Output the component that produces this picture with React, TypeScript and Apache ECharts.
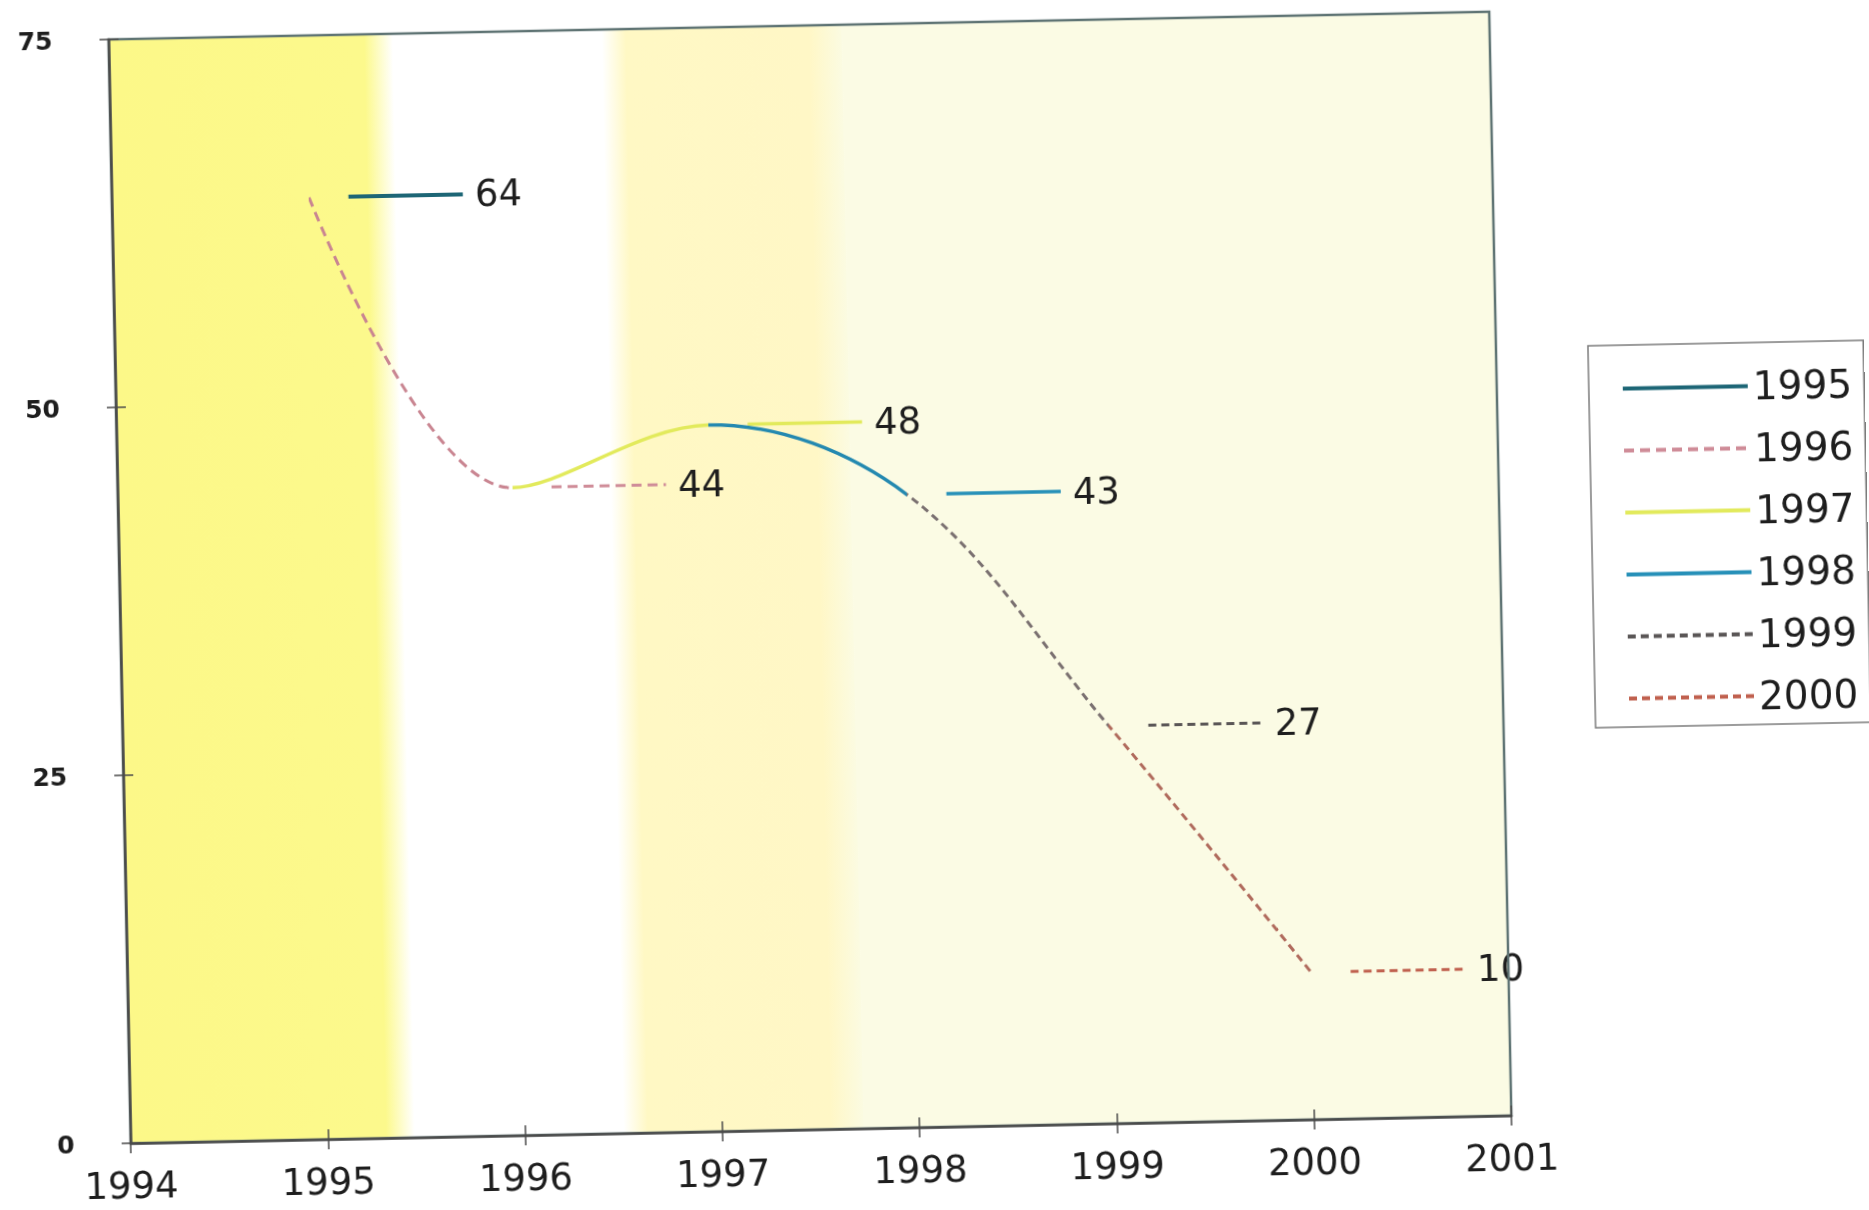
import React, { useEffect, useRef } from "react";
import * as echarts from "echarts";

// ---- data ----
const years = [1995, 1996, 1997, 1998, 1999, 2000];
const values = [64, 44, 48, 43, 27, 10];
const seriesNames = ["1995", "1996", "1997", "1998", "1999", "2000"];
const xMin = 1994;
const xMax = 2001;
const yMin = 0;
const yMax = 75;
const yInterval = 25;

// ---- styles ----
const FONT = "DejaVu Sans";
const lineColors = ["#1d6676", "#c98591", "#e2ea5c", "#2489b0", "#7a7070", "#b06a5c"];
const keyColors = ["#1d6676", "#cf8c98", "#e2ea5c", "#2690b8", "#5a5656", "#c0604e"];
const lineTypes: any[] = ["solid", [10, 6], "solid", "solid", [8, 5], [8, 5]];
const lineWidths = [4, 3, 3.5, 3.5, 3, 3];
const keyStart = 0.2;
const keyEnd = 0.78;

export default function App() {
  const ref = useRef<HTMLDivElement>(null);
  useEffect(() => {
    if (!ref.current) return;
    const chart = echarts.init(ref.current, undefined, { renderer: "svg" });
    const points = years.map((y, i) => [y, values[i]]);

    const keySeries = years.map((y, i) => ({
      name: seriesNames[i],
      type: "line",
      z: 3,
      symbol: "none",
      silent: true,
      data: [
        [y + keyStart, values[i]],
        [y + keyEnd, values[i]],
      ],
      lineStyle: { color: keyColors[i], width: lineWidths[i], type: lineTypes[i] },
      itemStyle: { color: keyColors[i] },
      endLabel: {
        show: true,
        distance: 12,
        formatter: (p: any) => String(p.value[1]),
        fontFamily: FONT,
        fontSize: 37,
        color: "#1e1e1e",
      },
    }));

    const segSeries = years.slice(1).map((y, k) => ({
      name: seriesNames[k + 1],
      type: "line",
      z: 3,
      smooth: 0.35,
      showSymbol: false,
      symbol: "none",
      silent: true,
      data: points,
      lineStyle: { width: lineWidths[k + 1], type: lineTypes[k + 1] },
      itemStyle: { color: lineColors[k + 1] },
    }));

    const visualMaps = years.slice(1).map((y, k) => ({
      type: "piecewise",
      show: false,
      seriesIndex: years.length + k,
      dimension: 0,
      pieces: [{ gte: years[k], lte: y, color: lineColors[k + 1] }],
      outOfRange: { color: "rgba(255,255,255,0)" },
    }));

    const grad = (stops: [number, string][]) =>
      new echarts.graphic.LinearGradient(
        0, 0, 1, 0,
        stops.map(([offset, color]) => ({ offset, color }))
      );

    const bandSeries = {
      name: "bands",
      type: "line",
      z: 1,
      silent: true,
      data: [],
      markArea: {
        silent: true,
        data: [
          [
            { xAxis: 1994, itemStyle: { color: grad([[0, "#fcf888"], [0.9, "#fcf98c"], [1, "#ffffff"]]) } },
            { xAxis: 1995.44 },
          ],
          [{ xAxis: 1995.44, itemStyle: { color: "#ffffff" } }, { xAxis: 1996.5 }],
          [
            { xAxis: 1996.5, itemStyle: { color: grad([[0, "#ffffff"], [0.1, "#fff8c4"], [0.86, "#fff7c6"], [1, "#fbfbe2"]]) } },
            { xAxis: 1997.72 },
          ],
          [{ xAxis: 1997.72, itemStyle: { color: "#fbfbe4" } }, { xAxis: 2001 }],
        ],
      },
    };

    chart.setOption({
      animation: false,
      backgroundColor: "#ffffff",
      grid: {
        left: 120,
        top: 23,
        right: 368,
        bottom: 83,
        show: true,
        z: 4,
        backgroundColor: "transparent",
        borderColor: "#5f7474",
        borderWidth: 2.5,
      },
      legend: {
        orient: "vertical",
        left: 1593,
        top: 359,
        padding: [24, 12, 9, 32],
        itemWidth: 125,
        itemHeight: 20,
        itemGap: 23,
        data: seriesNames,
        backgroundColor: "#ffffff",
        borderColor: "#7c7c7c",
        borderWidth: 1.5,
        selectedMode: false,
        itemStyle: { color: "transparent", borderWidth: 0, opacity: 0 },
        lineStyle: { width: 4 },
        textStyle: { fontFamily: FONT, fontSize: 39, lineHeight: 39, color: "#1e1e1e" },
      },
      visualMap: visualMaps,
      xAxis: [
        {
          type: "value",
          min: xMin,
          max: xMax,
          interval: 1,
          z: 5,
          axisLine: { show: true, onZero: false, lineStyle: { color: "#4a4a4a", width: 2.5 } },
          axisTick: { show: true, length: 10, lineStyle: { color: "#4a4a4a", width: 1.5 } },
          splitLine: { show: false },
          axisLabel: {
            fontFamily: FONT,
            fontSize: 37,
            color: "#1e1e1e",
            margin: 24,
            formatter: (v: number) => String(v),
          },
        },
        {
          type: "value",
          position: "bottom",
          min: xMin,
          max: xMax,
          interval: 1,
          z: 5,
          axisLine: { show: false },
          axisTick: { show: true, inside: true, length: 10, lineStyle: { color: "#4a4a4a", width: 1.5 } },
          splitLine: { show: false },
          axisLabel: { show: false },
        },
      ],
      yAxis: [
        {
          type: "value",
          min: yMin,
          max: yMax,
          interval: yInterval,
          z: 5,
          axisLine: { show: true, onZero: false, lineStyle: { color: "#4a4a4a", width: 2.5 } },
          axisTick: { show: true, length: 9, lineStyle: { color: "#4a4a4a", width: 1.5 } },
          splitLine: { show: false },
          axisLabel: {
            fontFamily: FONT,
            fontWeight: "bold",
            fontSize: 25,
            color: "#1e1e1e",
            margin: 56,
            formatter: (v: number) => String(v),
          },
        },
        {
          type: "value",
          position: "left",
          min: yMin,
          max: yMax,
          interval: yInterval,
          z: 5,
          axisLine: { show: false },
          axisTick: { show: true, inside: true, length: 10, lineStyle: { color: "#4a4a4a", width: 1.5 } },
          splitLine: { show: false },
          axisLabel: { show: false },
        },
      ],
      series: [...keySeries, ...segSeries, bandSeries],
    });
    return () => chart.dispose();
  }, []);

  return (
    <div
      ref={ref}
      style={{
        position: "fixed",
        left: 0,
        top: 0,
        width: 1869,
        height: 1210,
        transform: "rotate(-1.15deg)",
        transformOrigin: "50% 50%",
      }}
    />
  );
}
